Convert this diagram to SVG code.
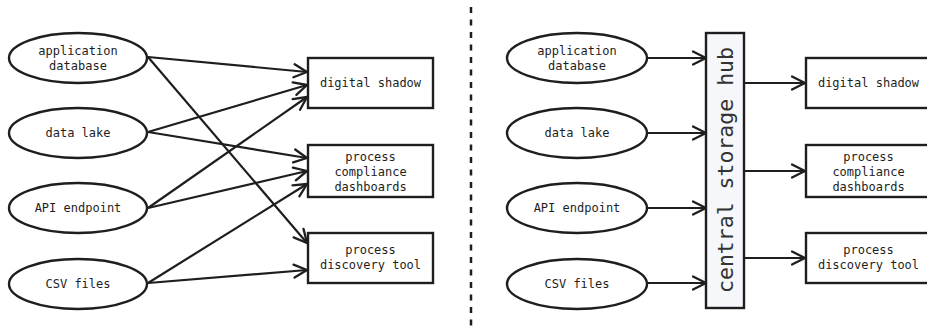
<svg xmlns="http://www.w3.org/2000/svg" width="927" height="328" viewBox="0 0 927 328">
<defs>
<style>
.n{fill:#fff;stroke:#1e1e1e;stroke-width:2.4}
.t{font-family:"DejaVu Sans Mono","Liberation Mono",monospace;font-size:12px;fill:#1e1e1e;text-anchor:middle}
.c{fill:none;stroke:#1e1e1e;stroke-width:2.2;marker-end:url(#a)}
</style>
<marker id="a" viewBox="0 0 16 16" refX="14.5" refY="8" markerWidth="16" markerHeight="16" markerUnits="userSpaceOnUse" orient="auto">
<path d="M1.5,1.5 L14.5,8 L1.5,14.5" fill="none" stroke="#1e1e1e" stroke-width="2.3" stroke-linecap="round" stroke-linejoin="round"/>
</marker>
</defs>
<rect width="927" height="328" fill="#fff"/>
<g id="divider"><line x1="471" y1="7" x2="471" y2="326" stroke="#1e1e1e" stroke-width="2.5" stroke-dasharray="6,6.5"/></g>

<g id="connectors">
<path class="c" d="M148,57 L307,72"/>
<path class="c" d="M148,57 L307,243"/>
<path class="c" d="M148,132 L307,85"/>
<path class="c" d="M148,132 L307,158"/>
<path class="c" d="M148,208 L307,97"/>
<path class="c" d="M148,208 L307,171"/>
<path class="c" d="M148,283 L307,184"/>
<path class="c" d="M148,283 L307,270"/>
<path class="c" d="M647,58 L706,58"/>
<path class="c" d="M647,133 L706,133"/>
<path class="c" d="M647,208 L706,208"/>
<path class="c" d="M647,283 L706,283"/>
<path class="c" d="M744,83 L805,83"/>
<path class="c" d="M744,171 L805,171"/>
<path class="c" d="M744,258 L805,258"/>
</g>

<g id="l-appdb"><ellipse class="n" cx="78" cy="58" rx="69" ry="25"/><text class="t" x="78" y="55">application</text><text class="t" x="78" y="70">database</text></g>
<g id="l-lake"><ellipse class="n" cx="78" cy="133" rx="69" ry="25"/><text class="t" x="78" y="137">data lake</text></g>
<g id="l-api"><ellipse class="n" cx="78" cy="208" rx="69" ry="25"/><text class="t" x="78" y="212">API endpoint</text></g>
<g id="l-csv"><ellipse class="n" cx="78" cy="284" rx="69" ry="25"/><text class="t" x="78" y="288">CSV files</text></g>

<g id="l-shadow"><rect class="n" x="308" y="58" width="125" height="50"/><text class="t" x="370.5" y="87">digital shadow</text></g>
<g id="l-compliance"><rect class="n" x="308" y="145" width="125" height="52"/><text class="t" x="370.5" y="161">process</text><text class="t" x="370.5" y="176">compliance</text><text class="t" x="370.5" y="191">dashboards</text></g>
<g id="l-discovery"><rect class="n" x="308" y="233" width="125" height="50"/><text class="t" x="370.5" y="254">process</text><text class="t" x="370.5" y="269">discovery tool</text></g>

<g id="r-appdb"><ellipse class="n" cx="577" cy="58" rx="70" ry="25"/><text class="t" x="577" y="55">application</text><text class="t" x="577" y="70">database</text></g>
<g id="r-lake"><ellipse class="n" cx="577" cy="133" rx="70" ry="25"/><text class="t" x="577" y="137">data lake</text></g>
<g id="r-api"><ellipse class="n" cx="577" cy="208" rx="70" ry="25"/><text class="t" x="577" y="212">API endpoint</text></g>
<g id="r-csv"><ellipse class="n" cx="577" cy="284" rx="70" ry="25"/><text class="t" x="577" y="288">CSV files</text></g>

<g id="hub"><rect x="706" y="33" width="38" height="275" fill="#f5f7fa" stroke="#1e1e1e" stroke-width="2.4"/><text transform="translate(733,170) rotate(-90)" x="0" y="0" style="font-family:'DejaVu Sans Mono','Liberation Mono',monospace;font-size:21.5px;fill:#333;text-anchor:middle">central storage hub</text></g>

<g id="r-shadow"><rect class="n" x="806" y="58" width="125" height="50"/><text class="t" x="868.5" y="87">digital shadow</text></g>
<g id="r-compliance"><rect class="n" x="806" y="145" width="125" height="52"/><text class="t" x="868.5" y="161">process</text><text class="t" x="868.5" y="176">compliance</text><text class="t" x="868.5" y="191">dashboards</text></g>
<g id="r-discovery"><rect class="n" x="806" y="233" width="125" height="50"/><text class="t" x="868.5" y="254">process</text><text class="t" x="868.5" y="269">discovery tool</text></g>
</svg>
